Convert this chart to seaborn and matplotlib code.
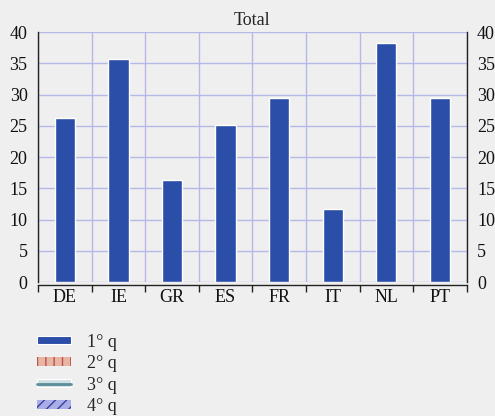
import numpy as np
import pandas as pd
import seaborn as sns
import matplotlib.pyplot as plt
import matplotlib.patches as mpatches
import matplotlib.lines as mlines
import matplotlib.ticker as mtick

# data
countries = ['DE', 'IE', 'GR', 'ES', 'FR', 'IT', 'NL', 'PT']
total = [26.3, 35.7, 16.4, 25.2, 29.5, 11.7, 38.3, 29.4]
quarters = ['1° q', '2° q', '3° q', '4° q']
yticks = [0, 5, 10, 15, 20, 25, 30, 35, 40]

sns.set_theme(style='white')
plt.rcParams['font.family'] = ['Liberation Serif', 'DejaVu Serif']

bg = '#efefef'
grid_col = '#b6b9e8'
blue = '#2b4ea8'
fs = 13

df = pd.DataFrame({'country': countries, 'value': total})

fig = plt.figure(figsize=(4.95, 4.16), dpi=100, facecolor=bg)
ax = fig.add_axes([0.0768, 0.322, 0.866, 0.601])
ax.set_facecolor(bg)

sns.barplot(data=df, x='country', y='value', color=blue, width=0.38,
            saturation=1, edgecolor='white', linewidth=1, ax=ax, zorder=3)

ax.set_ylim(0, 40)
ax.set_xlim(-0.5, len(countries) - 0.5)
ax.set_yticks(yticks)
ax.set_xlabel('')
ax.set_ylabel('')
ax.set_title('Total', fontsize=fs, pad=5)

# grid: horizontal at y ticks, vertical at category boundaries
ax.xaxis.set_minor_locator(mtick.FixedLocator(np.arange(-0.5, len(countries), 1)))
ax.grid(True, axis='y', which='major', color=grid_col, linewidth=1, zorder=0)
ax.grid(True, axis='x', which='minor', color=grid_col, linewidth=1, zorder=0)
ax.set_axisbelow(True)

ax.spines['top'].set_visible(False)
for s in ['left', 'right', 'bottom']:
    ax.spines[s].set_visible(True)
    ax.spines[s].set_color('#222222')
    ax.spines[s].set_linewidth(1)
ax.spines['bottom'].set_position(('outward', 2))

ax.tick_params(axis='y', which='both', left=False, right=False,
               labelleft=True, labelright=True, labelsize=fs, pad=1.5,
               colors='#111111')
ax.tick_params(axis='x', which='major', length=0, labelsize=fs, pad=3,
               colors='#111111')
ax.tick_params(axis='x', which='minor', bottom=True, length=5, width=1,
               direction='out', color='#222222')

# legend (quarter series)
h1 = mpatches.Patch(facecolor=blue, edgecolor='white', linewidth=0.8)
h2 = mpatches.Patch(facecolor='#e6b5a3', edgecolor='#c0504d', hatch='||',
                    linewidth=0)
h3 = (mpatches.Patch(facecolor='#cfe0e4', edgecolor='white', linewidth=0.8),
      mlines.Line2D([], [], color='#5b8c99', linewidth=2))
h4 = mpatches.Patch(facecolor='#a9aee8', edgecolor='#3a3f9a', hatch='///',
                    linewidth=0)
fig.legend([h1, h2, h3, h4], quarters, loc='upper left',
           bbox_to_anchor=(0.075, 0.198), frameon=False, fontsize=fs,
           handlelength=1.9, handleheight=0.35, handletextpad=0.85,
           labelspacing=0.25, borderaxespad=0, borderpad=0)

fig.savefig('out.png', dpi=100, facecolor=bg)
